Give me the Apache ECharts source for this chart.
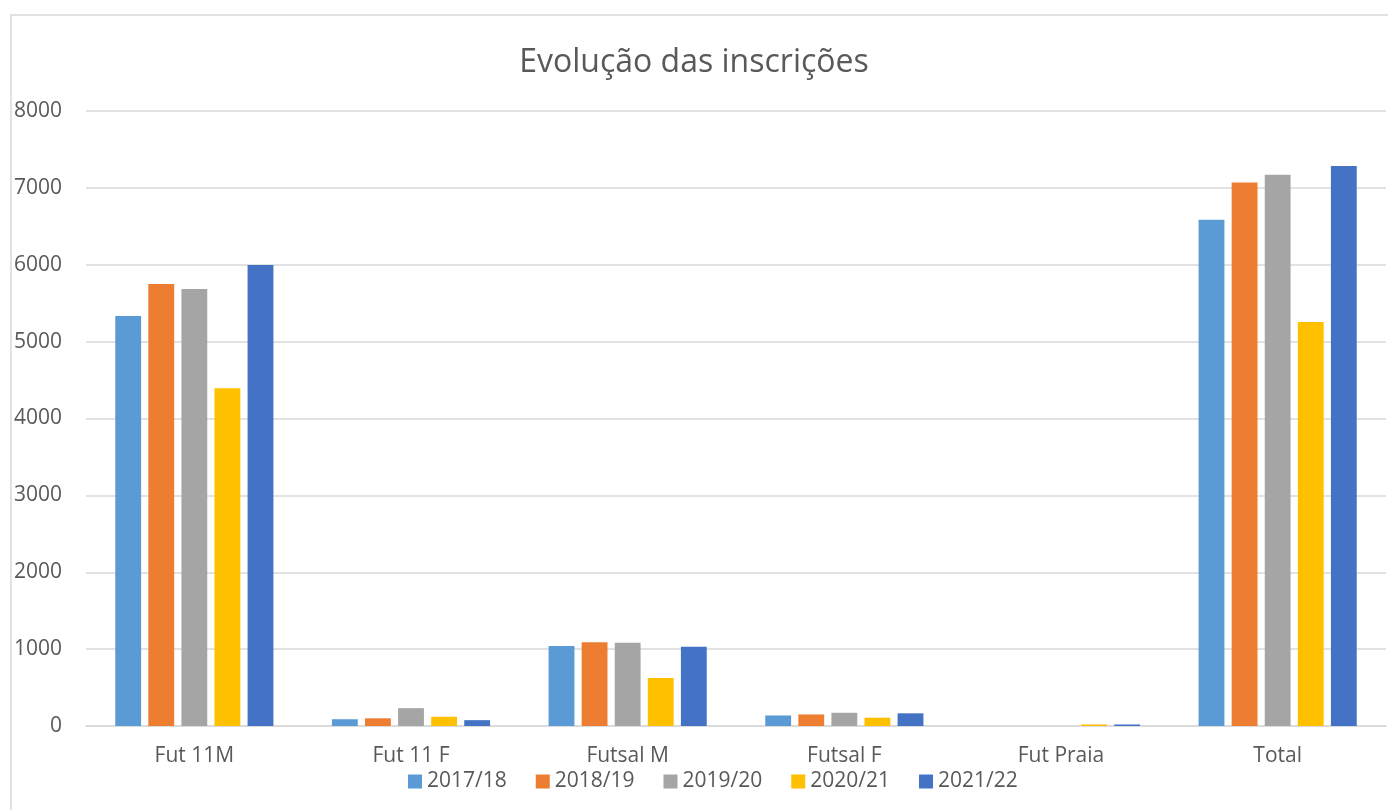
<!DOCTYPE html>
<html>
<head>
<meta charset="utf-8">
<script src="https://cdn.jsdelivr.net/npm/echarts@6/dist/echarts.min.js"></script>
<style>
  html, body { margin: 0; padding: 0; background: #fff; }
  #chart { width: 1388px; height: 810px; }
</style>
</head>
<body>
<div id="chart"></div>
<script>
var categories = ['Fut 11M', 'Fut 11 F', 'Futsal M', 'Futsal F', 'Fut Praia', 'Total'];
var seasons = ['2017/18', '2018/19', '2019/20', '2020/21', '2021/22'];
var s2017 = [5333, 88, 1040, 137, 0, 6585];
var s2018 = [5750, 100, 1090, 150, 0, 7070];
var s2019 = [5685, 232, 1083, 172, 0, 7170];
var s2020 = [4395, 120, 624, 108, 20, 5255];
var s2021 = [5997, 76, 1031, 165, 20, 7285];
var colors = ['#5B9BD5', '#ED7D31', '#A5A5A5', '#FFC000', '#4472C4'];

var values = [s2017, s2018, s2019, s2020, s2021];
var series = [];
for (var i = 0; i < seasons.length; i++) {
    series.push({
        name: seasons[i],
        type: 'bar',
        data: values[i],
        barGap: '28%',
        barCategoryGap: '27%',
        itemStyle: { color: colors[i] }
    });
}

var font = '"Open Sans", "Noto Sans", sans-serif';
var option = {
    animation: false,
    color: colors,
    textStyle: { fontFamily: font },
    title: {
        text: 'Evolução das inscrições',
        left: 'center',
        top: 42,
        textStyle: { fontSize: 32, fontWeight: 'normal', color: '#595959', fontFamily: font }
    },
    legend: {
        data: seasons,
        top: 766,
        left: 403,
        itemWidth: 14,
        itemHeight: 14,
        itemGap: 29,
        icon: 'rect',
        textStyle: { fontSize: 21, color: '#595959', fontFamily: font }
    },
    grid: { left: 86, right: 2, top: 111, bottom: 84, containLabel: false },
    xAxis: {
        type: 'category',
        data: categories,
        axisLine: { lineStyle: { color: '#D9D9D9', width: 1.5 } },
        axisTick: { show: false },
        axisLabel: { fontSize: 21, color: '#595959', margin: 20 }
    },
    yAxis: {
        type: 'value',
        min: 0,
        max: 8000,
        interval: 1000,
        axisLine: { show: false },
        axisTick: { show: false },
        axisLabel: {
            fontSize: 21,
            color: '#595959',
            margin: 24,
            formatter: function (v) { return String(v); }
        },
        splitLine: { lineStyle: { color: '#D9D9D9', width: 1.5 } }
    },
    graphic: [{
        type: 'rect',
        shape: { x: 11, y: 15, width: 1390, height: 800 },
        style: { fill: null, stroke: '#D9D9D9', lineWidth: 1.5 },
        silent: true
    }],
    series: series
};

echarts.init(document.getElementById('chart')).setOption(option);
</script>
</body>
</html>
